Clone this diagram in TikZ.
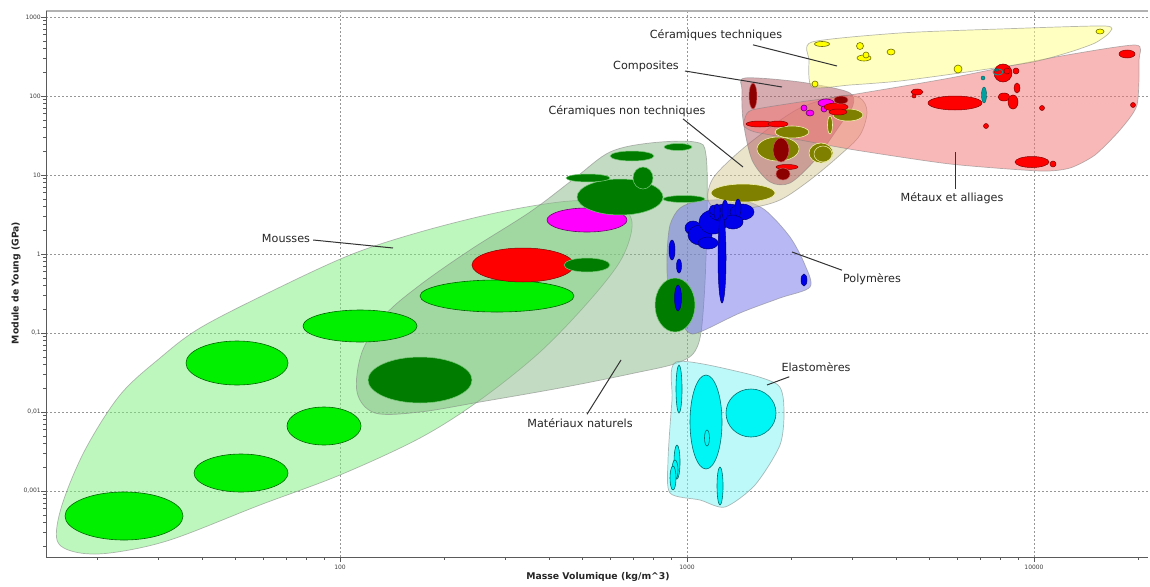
\documentclass[tikz,border=0pt]{standalone}
\usepackage{fontspec}
\setmainfont{DejaVu Sans}
\usetikzlibrary{calc}
\definecolor{mouF}{RGB}{125,240,125}
\definecolor{natF}{RGB}{135,185,135}
\definecolor{polF}{RGB}{115,115,235}
\definecolor{elaF}{RGB}{125,245,245}
\definecolor{cntF}{RGB}{215,205,150}
\definecolor{comF}{RGB}{175,90,100}
\definecolor{metF}{RGB}{245,115,115}
\definecolor{cteF}{RGB}{255,255,135}
\definecolor{bgreen}{RGB}{0,240,0}
\definecolor{dgreen}{RGB}{0,125,0}
\definecolor{olive}{RGB}{128,128,0}
\definecolor{dred}{RGB}{140,0,0}
\definecolor{bblue}{RGB}{0,0,235}
\definecolor{ccyan}{RGB}{0,245,245}
\definecolor{teal}{RGB}{0,160,160}
\definecolor{yel}{RGB}{255,255,0}
\definecolor{mag}{RGB}{255,0,255}
\definecolor{gridc}{RGB}{150,150,150}
\definecolor{axc}{RGB}{90,90,90}
\newcommand{\elp}[5]{\path[#1] (#2,#3) ellipse [x radius=#4pt, y radius=#5pt];}
\begin{document}
\begin{tikzpicture}[x=1pt,y=-1pt,
  env/.style={fill=#1, fill opacity=0.5, draw=gray, draw opacity=0.55, line width=0.7pt},
  gridline/.style={draw=gridc, line width=0.5pt, dash pattern=on 2pt off 2pt},
  axisline/.style={draw=axc, line width=0.7pt},
  mou/.style={fill=bgreen, draw={rgb,255:red,0;green,100;blue,0}, line width=0.6pt},
  nat/.style={fill=dgreen, draw={rgb,255:red,120;green,200;blue,120}, line width=0.5pt},
  redel/.style={fill=red, draw={rgb,255:red,130;green,0;blue,0}, line width=0.5pt},
  magel/.style={fill=mag, draw={rgb,255:red,110;green,0;blue,110}, line width=0.6pt},
  oliv/.style={fill=olive, draw={rgb,255:red,240;green,240;blue,170}, line width=0.6pt},
  dredel/.style={fill=dred, draw={rgb,255:red,200;green,90;blue,90}, line width=0.5pt},
  blu/.style={fill=bblue, draw={rgb,255:red,0;green,0;blue,120}, line width=0.5pt},
  cya/.style={fill=ccyan, draw={rgb,255:red,0;green,110;blue,110}, line width=0.6pt},
  tea/.style={fill=teal, draw={rgb,255:red,0;green,90;blue,90}, line width=0.4pt},
  yelel/.style={fill=yel, draw={rgb,255:red,110;green,110;blue,0}, line width=0.6pt},
  lbl/.style={inner sep=0pt, font=\fontsize{11.2}{13}\selectfont, text=black!85},
  leader/.style={draw=black!80, line width=1pt},
  tick/.style={font=\fontsize{6}{7}\selectfont, text=black!75, inner sep=0pt},
  axtitle/.style={font=\bfseries\fontsize{9.3}{11}\selectfont, text=black!85, inner sep=0pt}
]
\path[use as bounding box, fill=white] (0,0) rectangle (1150,586);

% grid
\foreach \yy in {17,96,175,254,333,412,491} \draw[gridline] (46,\yy) -- (1148,\yy);
\foreach \xx in {340,687,1034} \draw[gridline] (\xx,11) -- (\xx,557);

% envelopes
\path[env=mouF] plot[smooth cycle, tension=0.55] coordinates {
 (57,540) (62,505) (85,450) (120,395) (160,358) (200,328) (270,292) (350,255)
 (420,232) (500,212) (570,201) (615,204) (632,222) (622,258) (590,300) (540,352)
 (480,400) (420,438) (340,475) (260,505) (170,540) (110,553) (75,552)};
\path[env=natF] plot[smooth cycle, tension=0.55] coordinates {
 (357,392) (362,352) (385,315) (420,285) (470,250) (530,212) (575,178) (610,152)
 (650,143) (695,142) (706,155) (707,220) (704,300) (698,345) (680,362) (630,374)
 (560,388) (480,402) (420,412) (375,413)};
\path[env=polF] plot[smooth cycle, tension=0.5] coordinates {
 (667,255) (670,225) (680,208) (700,201) (740,200) (765,210) (790,237) (805,265)
 (810,287) (780,298) (740,313) (700,332) (688,332) (675,312) (668,285)};
\path[env=elaF] plot[smooth cycle, tension=0.45] coordinates {
 (676,362) (740,372) (778,385) (784,410) (780,445) (755,485) (725,507) (700,500)
 (670,493) (668,460) (672,400)};
\path[env=cntF] plot[smooth cycle, tension=0.55] coordinates {
 (708,200) (712,180) (730,160) (760,135) (800,108) (840,96) (860,98) (867,112)
 (860,135) (840,155) (810,180) (780,200) (750,208) (720,210)};
\path[env=comF] plot[smooth cycle, tension=0.5] coordinates {
 (745,78) (800,82) (848,92) (853,105) (840,125) (815,160) (790,183) (770,182)
 (752,160) (743,120) (742,90)};
\path[env=metF] plot[smooth cycle, tension=0.4] coordinates {
 (745,118) (752,110) (800,102) (850,95) (950,78) (1050,58) (1135,45) (1139,60)
 (1137,105) (1120,130) (1095,155) (1070,168) (1040,171) (950,164) (855,150)
 (800,140) (755,132) (744,126)};
\path[env=cteF] plot[smooth cycle, tension=0.4] coordinates {
 (812,42) (900,33) (1000,29) (1105,26) (1109,33) (1095,43) (1070,52) (1033,62)
 (967,72) (900,81) (850,85) (812,87) (809,60)};

% mousses ellipses
\elp{mou}{124}{516}{59}{24}
\elp{mou}{237}{363}{51}{22}
\elp{mou}{241}{473}{47}{19}
\elp{mou}{324}{426}{37}{19}
\elp{mou}{360}{326}{57}{16}
\elp{mou}{497}{296}{77}{16}

% naturels ellipses
\elp{nat}{420}{380}{52}{23}
\elp{redel}{523}{265}{51}{17}
\elp{nat}{587}{265}{23}{7}
\elp{magel}{587}{220}{40}{12}
\elp{nat}{620}{197}{43}{18}
\elp{nat}{643}{178}{10}{11}
\elp{nat}{588}{178}{22}{4}
\elp{nat}{632}{156}{22}{5}
\elp{nat}{678}{147}{14}{3.5}
\elp{nat}{684}{199}{21}{3.5}
\elp{nat}{675}{305}{20}{27}

% ceramiques non techniques ellipses
\elp{oliv}{743}{193}{32}{9}
\elp{oliv}{792}{132}{17}{6}
\elp{oliv}{778}{149}{21}{12}
\elp{dredel}{781}{150}{8}{12}
\elp{oliv}{821}{153}{12}{10}
\path[draw={rgb,255:red,240;green,240;blue,170}, line width=0.5pt] (823,154) ellipse [x radius=9pt, y radius=8pt];
\elp{oliv}{848}{115}{15}{6}
\elp{oliv}{830}{125}{2.5}{9}
\elp{redel}{787}{167}{11}{2.5}
\elp{dredel}{783}{174}{7}{6}

% polymeres
\elp{blu}{693}{228}{8}{7}
\elp{blu}{700}{235}{12}{10}
\elp{blu}{708}{243}{10}{6}
\elp{blu}{713}{222}{14}{12}
\elp{blu}{727}{213}{18}{9}
\elp{blu}{742}{212}{12}{8}
\elp{blu}{733}{222}{10}{7}
\elp{blu}{715}{210}{6}{5}
\elp{blu}{722}{258}{4}{45}
\elp{blu}{725}{210}{3}{10}
\elp{blu}{738}{208}{3}{9}
\elp{blu}{717}{212}{3}{8}
\elp{blu}{672}{250}{3}{10}
\elp{blu}{679}{266}{2.5}{7}
\elp{blu}{804}{280}{3}{6}
\elp{blu}{678}{298}{3.5}{13}

% elastomeres
\elp{cya}{706}{422}{16}{47}
\elp{cya}{751}{413}{25}{24}
\elp{cya}{707}{438}{2.5}{8}
\elp{cya}{679}{389}{3}{24}
\elp{cya}{677}{462}{3}{17}
\elp{cya}{675}{470}{3}{10}
\elp{cya}{673}{478}{3}{12}
\elp{cya}{720}{486}{3}{19}

% composites
\elp{dredel}{753}{96}{4}{13}
\elp{redel}{760}{124}{14}{3}
\elp{redel}{778}{124}{10}{3}
\elp{magel}{826}{103}{8}{4}
\elp{magel}{804}{108}{3}{3}
\elp{magel}{810}{113}{4}{3}
\elp{magel}{824}{109}{3}{3}
\elp{redel}{836}{107}{12}{4}
\elp{redel}{838}{112}{9}{3}
\elp{dredel}{841}{100}{7}{4}

% metaux
\elp{redel}{955}{103}{27}{7}
\elp{redel}{1032}{162}{17}{5.5}
\elp{redel}{1053}{164}{3}{3}
\elp{redel}{1127}{54}{8}{4}
\elp{redel}{1133}{105}{2.5}{2.5}
\elp{redel}{1003}{73}{9}{9}
\elp{redel}{1007}{71}{3}{3}
\elp{redel}{1016}{71}{3}{3}
\elp{redel}{1017}{88}{3}{5}
\elp{redel}{1004}{97}{6}{4}
\elp{redel}{1013}{102}{5}{7}
\elp{redel}{1042}{108}{2.5}{2.5}
\elp{redel}{986}{126}{2.5}{2.5}
\elp{redel}{917}{92}{6}{3}
\elp{redel}{914}{96}{2}{2}
\elp{tea}{984}{95}{2.5}{8}
\elp{tea}{983}{78}{2}{2}
\path[draw=teal, line width=0.8pt] (998,72) ellipse [x radius=5pt, y radius=3pt];
\elp{tea}{997}{70}{1.5}{1.5}

% ceramiques techniques
\elp{yelel}{822}{44}{7.5}{2.5}
\elp{yelel}{860}{46}{3.5}{3.5}
\elp{yelel}{864}{58}{7}{3}
\elp{yelel}{866}{55}{3}{3}
\elp{yelel}{891}{52}{4}{3}
\elp{yelel}{958}{69}{4}{4}
\elp{yelel}{815}{84}{3}{3}
\elp{yelel}{1100}{31.5}{4}{2.5}

% axes
\draw[draw=gray!60, line width=1.4pt] (46,11) -- (1148,11);
\draw[axisline] (46,11) -- (46,557) -- (1148,557);
\foreach \d in {1,2,3,4}{\foreach \m in {2,...,9}{
  \pgfmathsetmacro\xx{340+347*(\d-2+log10(\m))}
  \ifdim\xx pt<1148pt \draw[axisline, line width=0.5pt] (\xx,557) -- (\xx,560); \fi
}}
\foreach \xx in {340,687,1034} \draw[axisline] (\xx,557) -- (\xx,562);
\foreach \d in {-4,...,2}{\foreach \m in {2,...,9}{
  \pgfmathsetmacro\yy{254-79*(\d+log10(\m))}
  \ifdim\yy pt<557pt \ifdim\yy pt>11pt \draw[axisline, line width=0.5pt] (43,\yy) -- (46,\yy); \fi\fi
}}
\foreach \yy in {17,96,175,254,333,412,491} \draw[axisline] (41,\yy) -- (46,\yy);

\node[tick, anchor=east] (y3) at (41,17) {1000};
\node[tick, anchor=east] (y2) at (41,96) {100};
\node[tick, anchor=east] (y1) at (41,175) {10};
\node[tick, anchor=east] (y0) at (41,254) {1};
\node[tick, anchor=east] (ym1) at (41,333) {0,1};
\node[tick, anchor=east] (ym2) at (41,412) {0,01};
\node[tick, anchor=east] (ym3) at (41,491) {0,001};
\node[tick] (x2) at (340,567) {100};
\node[tick] (x3) at (687,567) {1000};
\node[tick] (x4) at (1034,567) {10000};
\node[axtitle] (xt) at (598,577) {Masse Volumique (kg/m\^{}3)};
\node[axtitle, rotate=90] (yt) at (16,283) {Module de Young (GPa)};

% labels and leaders
\node[lbl] (lcte) at (716,35) {Céramiques techniques};
\coordinate (ccte) at (837,66);
\draw[leader] ($(lcte.south)+(37,4)$) -- (ccte);
\node[lbl] (lcom) at (646,66) {Composites};
\coordinate (ccom) at (782,87);
\draw[leader] ($(lcom.east)+(6,5)$) -- (ccom);
\node[lbl] (lcnt) at (627,111) {Céramiques non techniques};
\coordinate (ccnt) at (743,167);
\draw[leader] ($(lcnt.south)+(56,2)$) -- (ccnt);
\node[lbl] (lmou) at (286,238) {Mousses};
\coordinate (cmou) at (393,248);
\draw[leader] ($(lmou.east)+(3,2)$) -- (cmou);
\node[lbl] (lpol) at (872,279) {Polymères};
\coordinate (cpol) at (792,252);
\draw[leader] ($(lpol.north west)+(-1,-3)$) -- (cpol);
\node[lbl] (lela) at (816,367) {Elastomères};
\coordinate (cela) at (767,385);
\draw[leader] ($(lela.south west)+(8,5)$) -- (cela);
\node[lbl] (lnat) at (580,423) {Matériaux naturels};
\coordinate (cnat) at (621,360);
\draw[leader] ($(lnat.north)+(7,-4)$) -- (cnat);
\node[lbl] (lmet) at (952,198) {Métaux et alliages};
\coordinate (cmet) at (955,152);
\draw[leader] ($(lmet.north)+(3,-3)$) -- (cmet);
\end{tikzpicture}
\end{document}
